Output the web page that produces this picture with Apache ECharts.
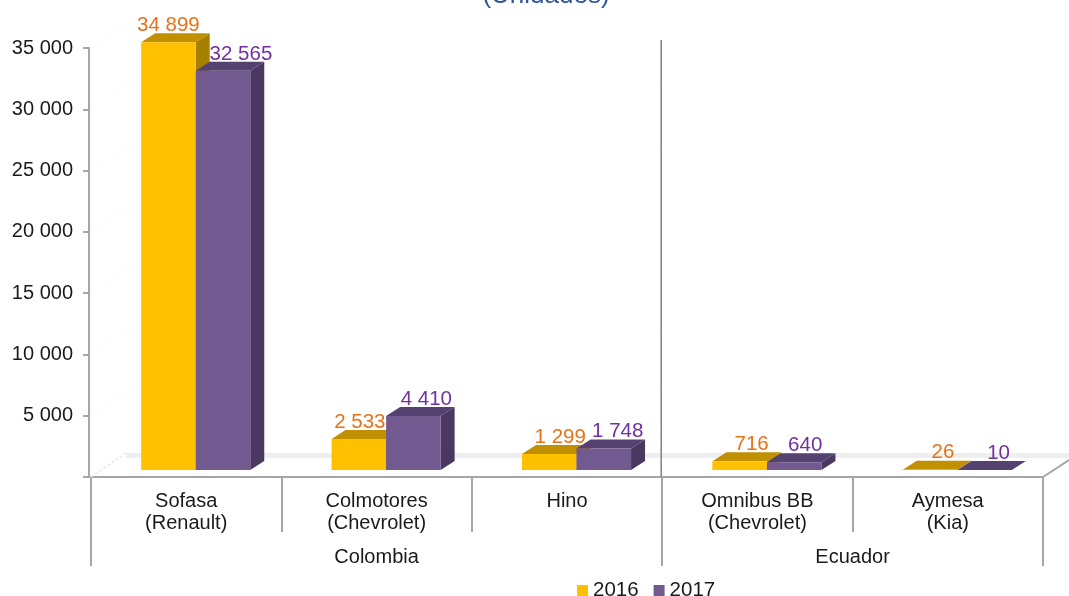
<!DOCTYPE html>
<html>
<head>
<meta charset="utf-8">
<style>
  html, body { margin: 0; padding: 0; background: #fff; }
  #chart { width: 1069px; height: 596px; overflow: hidden; }
</style>
<script src="https://cdn.jsdelivr.net/npm/echarts@6/dist/echarts.min.js"></script>
</head>
<body>
<div id="chart"></div>
<script>
var categories = ['Sofasa\n(Renault)', 'Colmotores\n(Chevrolet)', 'Hino', 'Omnibus BB\n(Chevrolet)', 'Aymesa\n(Kia)'];
var values2016 = [34899, 2533, 1299, 716, 26];
var values2017 = [32565, 4410, 1748, 640, 10];
var countries = ['Colombia', 'Ecuador'];
var countryStarts = [0, 3, 5];
var countryCentres = [1.5, 4];
var yTicks = [5000, 10000, 15000, 20000, 25000, 30000, 35000];

var FONT = '"Liberation Sans", Arial, sans-serif';
var AXIS_COLOR = '#a6a6a6';
// pseudo 3D: how far back the bars and the floor go
var DEPTH_X = 14, DEPTH_Y = 9, FLOOR_LIFT = 7;

function fmt(v) {
  return String(v).replace(/\B(?=(\d{3})+$)/g, ' ');
}

// one 3D bar: front, side, top and the value above it
function barSeries(name, data, slot, colors, labelColor, labelShift) {
  return {
    name: name,
    type: 'custom',
    xAxisIndex: 0,
    itemStyle: { color: colors[0] },
    encode: { x: 0, y: 1 },
    data: data.map(function (v, i) { return [i, v]; }),
    renderItem: function (params, api) {
      var i = api.value(0);
      var c = api.coord([i, api.value(1)]);
      var base = api.coord([i, 0])[1] - FLOOR_LIFT;
      var top = c[1] - FLOOR_LIFT;
      var w = api.size([1, 0])[0] * 0.2865;
      var x0 = c[0] + 9.5 + slot * w;
      var x1 = x0 + w;
      return {
        type: 'group',
        children: [
          { type: 'polygon', shape: { points: [[x1, top], [x1 + DEPTH_X, top - DEPTH_Y], [x1 + DEPTH_X, base - DEPTH_Y], [x1, base]] },
            style: { fill: colors[2] } },
          { type: 'polygon', shape: { points: [[x0, top], [x0 + DEPTH_X, top - DEPTH_Y], [x1 + DEPTH_X, top - DEPTH_Y], [x1, top]] },
            style: { fill: colors[1] } },
          { type: 'rect', shape: { x: x0, y: top, width: w, height: base - top },
            style: { fill: colors[0] } },
          { type: 'text', z2: 10,
            style: { text: fmt(api.value(1)), x: x0 + w / 2 + labelShift[i], y: top - 17,
              align: 'center', verticalAlign: 'middle', fill: labelColor, font: '20.5px ' + FONT } }
        ]
      };
    }
  };
}

var floorSeries = {
  type: 'custom',
  xAxisIndex: 1,
  silent: true,
  data: [[0, 0]],
  encode: { x: 0, y: 1 },
  renderItem: function (params, api) {
    var p0 = api.coord([0, 0]);
    var p1 = api.coord([5, 0]);
    var band = [p0[1] - 24, p0[1] - 19];
    var kids = [
      { type: 'rect', shape: { x: p0[0] + 35, y: band[0], width: 1069 - p0[0] - 35, height: band[1] - band[0] }, style: { fill: '#efefef' } },
      { type: 'line', shape: { x1: p0[0], y1: p0[1], x2: p0[0] + 35, y2: p0[1] - 24 }, style: { stroke: '#e8e8e8', lineWidth: 1.5, lineDash: [3, 2] } },
      { type: 'line', shape: { x1: p1[0], y1: p1[1], x2: p1[0] + 26, y2: p1[1] - 17 }, style: { stroke: AXIS_COLOR, lineWidth: 2 } }
    ];
    yTicks.forEach(function (t) {
      var y = api.coord([0, t])[1];
      kids.push({ type: 'line', shape: { x1: p0[0], y1: y, x2: p0[0] + 35, y2: y - 24 }, style: { stroke: '#f8f8f8', lineWidth: 1, lineDash: [2, 2] } });
      kids.push({ type: 'line', shape: { x1: p0[0] + 35, y1: y - 24, x2: 1069, y2: y - 24 }, style: { stroke: '#fdfdfd', lineWidth: 1 } });
    });
    return { type: 'group', children: kids };
  }
};

// vertical line between the two countries
var dividerSeries = {
  type: 'custom',
  xAxisIndex: 1,
  silent: true,
  z: 5,
  data: [[countryStarts[1], 35000]],
  encode: { x: 0, y: 1 },
  renderItem: function (params, api) {
    var top = api.coord([api.value(0), api.value(1)]);
    var bottom = api.coord([api.value(0), 0]);
    return { type: 'line', shape: { x1: top[0] - 1, y1: top[1] - 8, x2: bottom[0] - 1, y2: bottom[1] }, style: { stroke: '#7f7f7f', lineWidth: 1.5 } };
  }
};

var myChart = echarts.init(document.getElementById('chart'));
myChart.setOption({
  animation: false,
  backgroundColor: '#fff',
  textStyle: { fontFamily: FONT },
  title: {
    text: '(Unidades)',
    left: 541,
    top: -22,
    textAlign: 'center',
    textStyle: { color: '#2f5597', fontSize: 26, fontWeight: 'normal', fontFamily: FONT }
  },
  legend: {
    data: ['2016', '2017'],
    left: 572,
    top: 575,
    icon: 'rect',
    itemWidth: 11,
    itemHeight: 11,
    itemGap: 15,
    textStyle: { color: '#1a1a1a', fontSize: 20.5, fontFamily: FONT, padding: [0, 0, 0, 0] }
  },
  grid: { left: 91, right: 26, top: 48, bottom: 119 },
  xAxis: [{
    type: 'category',
    data: categories,
    axisLine: { lineStyle: { color: AXIS_COLOR, width: 2 } },
    axisTick: { show: true, length: 55, lineStyle: { color: AXIS_COLOR, width: 2 } },
    axisLabel: { color: '#1a1a1a', fontSize: 20, lineHeight: 22, margin: 13, interval: 0, fontFamily: FONT }
  }, {
    type: 'value',
    min: 0,
    max: 5,
    position: 'bottom',
    splitLine: { show: false },
    axisLine: { show: false },
    axisTick: { show: true, length: 89, customValues: countryStarts, lineStyle: { color: AXIS_COLOR, width: 2 } },
    axisLabel: {
      color: '#1a1a1a', fontSize: 20, margin: 70, fontFamily: FONT,
      customValues: countryCentres,
      formatter: function (v) { return countries[countryCentres.indexOf(v)]; }
    }
  }],
  yAxis: {
    type: 'value',
    min: 0,
    max: 35000,
    interval: 5000,
    position: 'left',
    offset: 2,
    splitLine: { show: false },
    axisLine: { show: true, onZero: false, lineStyle: { color: AXIS_COLOR, width: 2 } },
    axisTick: { show: true, length: 6, lineStyle: { color: AXIS_COLOR, width: 2 } },
    axisLabel: {
      color: '#1a1a1a', fontSize: 20, margin: 16, fontFamily: FONT,
      verticalAlignMinLabel: 'middle',
      verticalAlignMaxLabel: 'middle',
      padding: [7, 0, 0, 0],
      formatter: function (v) { return v === 0 ? '' : fmt(v); }
    }
  },
  series: [
    floorSeries,
    barSeries('2016', values2016, -1, ['#ffc000', '#c09000', '#a88000'], '#e8711a', [0, 1, 11, 12, 13]),
    barSeries('2017', values2017, 0, ['#725990', '#564270', '#4a3860'], '#7030a0', [18, 13, 14, 11, 14]),
    dividerSeries
  ]
});
window.addEventListener('resize', function () { myChart.resize(); });
</script>
</body>
</html>
